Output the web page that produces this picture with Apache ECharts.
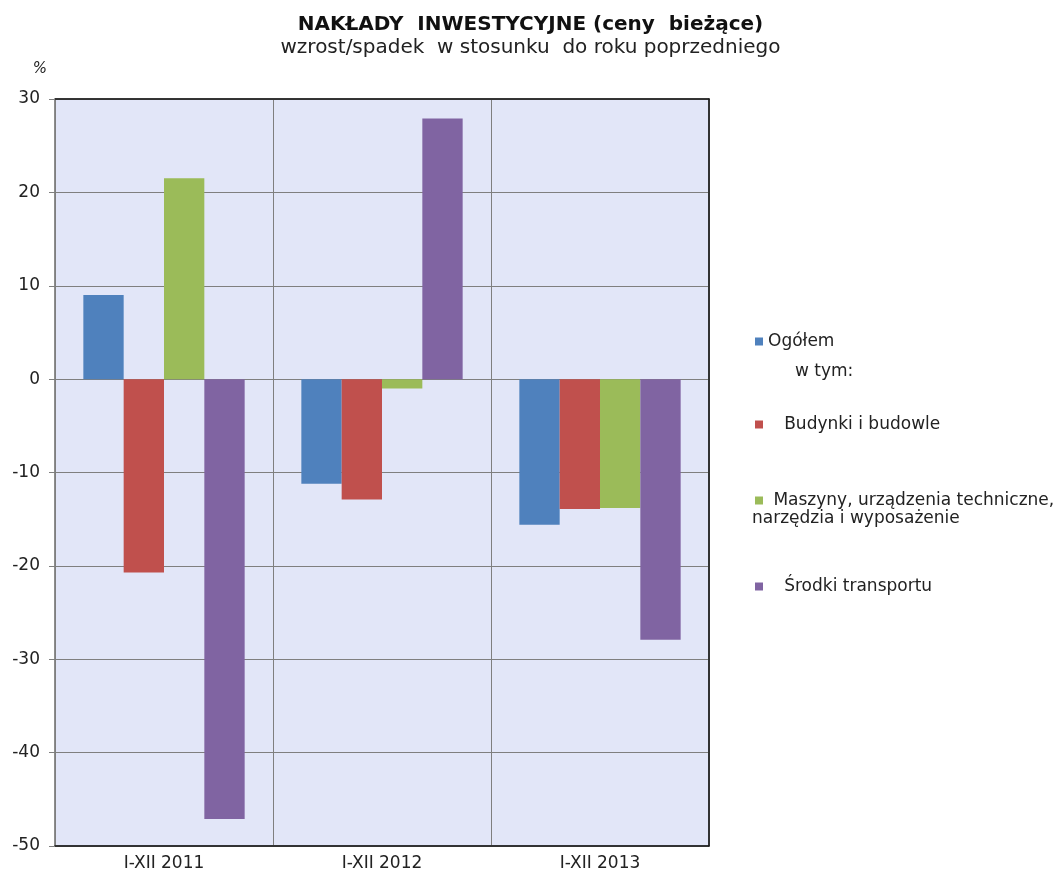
<!DOCTYPE html>
<html>
<head>
<meta charset="utf-8">
<script src="https://cdn.jsdelivr.net/npm/echarts@6/dist/echarts.min.js"></script>
<style>
  html, body { margin: 0; padding: 0; background: #fff; }
  #chart { width: 1061px; height: 872px; }
</style>
</head>
<body>
<div id="chart"></div>
<script>
// dane
const categories = ['I-XII 2011', 'I-XII 2012', 'I-XII 2013']
const seriesNames = ['Ogółem', 'Budynki i budowle', 'Maszyny, urządzenia techniczne,', 'Środki transportu']
const ogolem = [9.0, -11.2, -15.6]
const budynki = [-20.7, -12.9, -13.9]
const maszyny = [21.5, -1.0, -13.8]
const srodki = [-47.1, 27.9, -27.9]
const yTicks = { min: -50, max: 30, interval: 10 }

const colors = ['#4f81bd', '#c0504d', '#9bbb59', '#8064a2']
const font = 'DejaVu Sans'

const chart = echarts.init(document.getElementById('chart'))

// każda pozycja legendy osobno, bo odstępy są nierówne
const legendTops = [328, 411, 487, 573]
const legendPad = ['', '   ', ' ', '   ']

const makeLegend = (name, i) => ({
  data: [name],
  left: 750,
  top: legendTops[i],
  orient: 'vertical',
  icon: 'rect',
  itemWidth: 8,
  itemHeight: 8,
  selectedMode: false,
  formatter: (n) => legendPad[i] + n,
  textStyle: { fontFamily: font, fontSize: 17, color: '#222' }
})

const makeSeries = (name, data, i) => ({
  name: name,
  type: 'bar',
  data: data,
  barGap: 0,
  barCategoryGap: '26%',
  itemStyle: { color: colors[i] },
  emphasis: { disabled: true }
})

chart.setOption({
  animation: false,
  title: {
    text: 'NAKŁADY  INWESTYCYJNE (ceny  bieżące)',
    subtext: 'wzrost/spadek  w stosunku  do roku poprzedniego',
    left: 'center',
    top: 10,
    itemGap: 3,
    textStyle: { fontFamily: font, fontSize: 20, fontWeight: 'bold', color: '#111' },
    subtextStyle: { fontFamily: font, fontSize: 20, color: '#222' }
  },
  legend: seriesNames.map(makeLegend),
  grid: {
    left: 55,
    right: 352,
    top: 99,
    bottom: 26,
    show: true,
    backgroundColor: '#e2e6f8',
    borderColor: '#1a1a1a',
    borderWidth: 1
  },
  xAxis: [
    {
      type: 'category',
      data: categories,
      axisLine: { onZero: false, lineStyle: { color: '#1a1a1a', width: 1.5 } },
      axisTick: { show: false },
      axisLabel: { fontFamily: font, fontSize: 17, color: '#222', margin: 9 },
      splitLine: { show: true, lineStyle: { color: '#7f7f7f', width: 1 } }
    },
    {
      type: 'category',
      data: categories,
      position: 'top',
      axisLine: { onZero: false, lineStyle: { color: '#1a1a1a', width: 1.5 } },
      axisTick: { show: false },
      axisLabel: { show: false }
    }
  ],
  yAxis: [
    {
      type: 'value',
      min: yTicks.min,
      max: yTicks.max,
      interval: yTicks.interval,
      name: '%',
      nameLocation: 'end',
      nameGap: 22,
      nameTextStyle: { fontFamily: font, fontSize: 15, fontStyle: 'italic', color: '#222', align: 'right', padding: [0, 8, 0, 0] },
      axisLine: { show: true, lineStyle: { color: '#7f7f7f' } },
      axisTick: { show: true, length: 6, lineStyle: { color: '#7f7f7f' } },
      axisLabel: { fontFamily: font, fontSize: 17, color: '#222', margin: 15 },
      splitLine: { show: true, lineStyle: { color: '#7f7f7f', width: 1 } }
    },
    {
      type: 'value',
      min: yTicks.min,
      max: yTicks.max,
      interval: yTicks.interval,
      position: 'right',
      axisLine: { show: true, lineStyle: { color: '#1a1a1a', width: 1.5 } },
      axisTick: { show: false },
      axisLabel: { show: false },
      splitLine: { show: false }
    }
  ],
  graphic: [
    {
      type: 'text',
      left: 795,
      top: 363,
      style: { text: 'w tym:', fontFamily: font, fontSize: 17, fill: '#222' }
    },
    {
      type: 'text',
      left: 752,
      top: 510,
      style: { text: 'narzędzia i wyposażenie', fontFamily: font, fontSize: 17, fill: '#222' }
    }
  ],
  series: [
    makeSeries(seriesNames[0], ogolem, 0),
    makeSeries(seriesNames[1], budynki, 1),
    makeSeries(seriesNames[2], maszyny, 2),
    makeSeries(seriesNames[3], srodki, 3)
  ]
})
</script>
</body>
</html>
